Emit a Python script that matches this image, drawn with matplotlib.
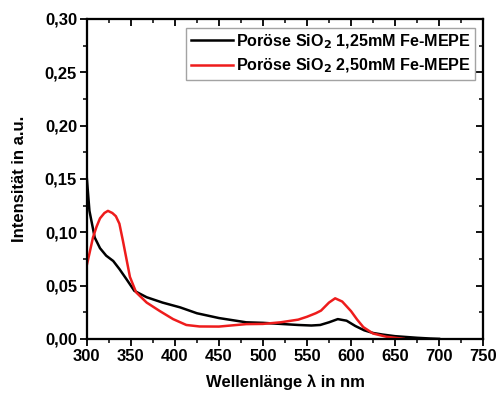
import numpy as np
import matplotlib as mpl
import matplotlib.pyplot as plt
from matplotlib.ticker import FuncFormatter, MultipleLocator

mpl.rcParams.update({
    "font.family": ["Liberation Sans", "DejaVu Sans"],
    "font.weight": "bold",
    "mathtext.default": "bf",
    "font.size": 12,
    "axes.linewidth": 1.5,
})

# ── data ─────────────────────────────────────────────────────────────────────
wl_black = [300, 303, 309, 315, 322, 330, 337, 345, 354, 368, 386, 406, 425,
            450, 481, 500, 520, 540, 555, 565, 575, 585, 595, 605, 615,
            625, 636, 650, 675, 690, 700]
int_black = [0.151, 0.120, 0.095, 0.085, 0.078, 0.073, 0.0655, 0.056, 0.045,
             0.039, 0.034, 0.0295, 0.024, 0.0195, 0.0155, 0.0150, 0.0140,
             0.0130, 0.0125, 0.0130, 0.0155, 0.0185, 0.0170, 0.0120, 0.0080,
             0.0055, 0.0040, 0.0025, 0.0010, 0.0003, 0.0]

wl_red = [300, 303, 307, 311, 315, 320, 324, 329, 333, 337, 341, 345, 349,
          356, 368, 383, 398, 413, 428, 450, 481, 500, 520, 540, 550, 560,
          566, 575, 582, 590, 600, 607, 614, 625, 640, 652, 660]
int_red = [0.069, 0.080, 0.095, 0.105, 0.113, 0.118, 0.120, 0.118, 0.115,
           0.108, 0.092, 0.075, 0.058, 0.0436, 0.034, 0.026, 0.0185, 0.013,
           0.0116, 0.0115, 0.0138, 0.0140, 0.0155, 0.0180, 0.0207, 0.0240,
           0.0265, 0.0340, 0.0380, 0.0350, 0.0260, 0.0180, 0.0110, 0.0050,
           0.0020, 0.0008, 0.0]

label_black = r"Poröse SiO$_\mathbf{2}$ 1,25mM Fe-MEPE"
label_red = r"Poröse SiO$_\mathbf{2}$ 2,50mM Fe-MEPE"

fig = plt.figure(figsize=(4.96, 3.94), dpi=100)
ax = fig.add_axes([0.175, 0.14, 0.799, 0.812])

ax.plot(wl_black, int_black, color="black", lw=1.8, label=label_black)
ax.plot(wl_red, int_red, color="#ee1c1c", lw=1.8, label=label_red)

ax.set_xlim(300, 750)
ax.set_ylim(0, 0.30)
ax.xaxis.set_major_locator(MultipleLocator(50))
ax.xaxis.set_minor_locator(MultipleLocator(25))
ax.yaxis.set_major_locator(MultipleLocator(0.05))
ax.yaxis.set_minor_locator(MultipleLocator(0.025))
ax.yaxis.set_major_formatter(FuncFormatter(lambda v, p: f"{v:.2f}".replace(".", ",")))
# bottom / left: ticks outward
ax.tick_params(which="major", direction="out", length=5, width=1.3,
               labelsize=12, pad=2)
ax.tick_params(which="minor", direction="out", length=3, width=1.1)

# top / right: ticks inward, no labels (twin axes)
ax_top = ax.twiny()
ax_top.set_xlim(ax.get_xlim())
ax_top.xaxis.set_major_locator(MultipleLocator(50))
ax_top.xaxis.set_minor_locator(MultipleLocator(25))
ax_top.tick_params(axis="x", which="major", direction="in", length=5, width=1.3,
                   labeltop=False)
ax_top.tick_params(axis="x", which="minor", direction="in", length=3, width=1.1)
ax_top.tick_params(axis="y", left=False, right=False, labelleft=False)

ax_right = ax.twinx()
ax_right.set_ylim(ax.get_ylim())
ax_right.yaxis.set_major_locator(MultipleLocator(0.05))
ax_right.yaxis.set_minor_locator(MultipleLocator(0.025))
ax_right.tick_params(axis="y", which="major", direction="in", length=5, width=1.3,
                     labelright=False)
ax_right.tick_params(axis="y", which="minor", direction="in", length=3, width=1.1)
ax_right.tick_params(axis="x", top=False, bottom=False, labelbottom=False)

ax.set_xlabel("Wellenlänge λ in nm", fontweight="bold", fontsize=12, labelpad=8)
ax.set_ylabel("Intensität in a.u.", fontweight="bold", fontsize=12, labelpad=13)

leg = ax_right.legend(*ax.get_legend_handles_labels(),
                      loc="upper right", bbox_to_anchor=(0.98, 0.973), fontsize=11.6,
                      frameon=True, fancybox=False, edgecolor="0.55", borderpad=0.3,
                      handlelength=2.6, handletextpad=0.15, labelspacing=0.38,
                      borderaxespad=0.0)
leg.get_frame().set_linewidth(1.0)
for t in leg.get_texts():
    t.set_fontweight("bold")

fig.savefig("out.png", dpi=100)
